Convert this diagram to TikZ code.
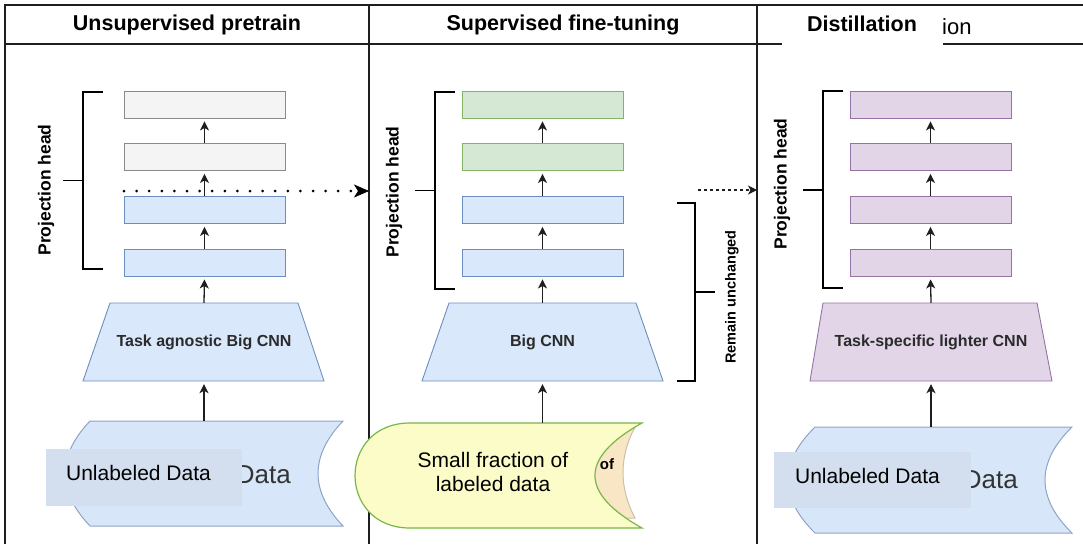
\documentclass[tikz,border=0pt]{standalone}
\usepackage{fontspec}
\setmainfont{Liberation Sans}
\usetikzlibrary{arrows.meta,calc}

\definecolor{frameline}{HTML}{1E1E1E}
\definecolor{boxgrey}{HTML}{F4F4F4}
\definecolor{boxgreyline}{HTML}{8A8A8A}
\definecolor{boxblue}{HTML}{DAE8FC}
\definecolor{boxblueline}{HTML}{6C8EBF}
\definecolor{boxgreen}{HTML}{D5E8D4}
\definecolor{boxgreenline}{HTML}{82B366}
\definecolor{boxpurple}{HTML}{E1D5E7}
\definecolor{boxpurpleline}{HTML}{9673A6}
\definecolor{datafill}{HTML}{D8E6FA}
\definecolor{dataline}{HTML}{8DA4C4}
\definecolor{patchfill}{HTML}{D3DEEE}
\definecolor{yellowfill}{HTML}{FCFCC8}
\definecolor{yellowline}{HTML}{7AB648}
\definecolor{beigefill}{HTML}{F9E6C4}
\definecolor{beigeline}{HTML}{C9C0AE}
\definecolor{labeltext}{HTML}{2B2B2B}

\newcommand\hdrfont{\fontsize{21.5}{25}\selectfont\bfseries}
\newcommand\cnnfont{\fontsize{16}{19}\selectfont\bfseries}
\newcommand\datafont{\fontsize{21}{24}\selectfont}

\tikzset{
  frame/.style={draw=frameline, line width=1.2pt},
  layer/.style={draw, line width=0.9pt, minimum width=161pt, minimum height=27pt, inner sep=0pt},
  greylayer/.style={layer, fill=boxgrey, draw=boxgreyline},
  bluelayer/.style={layer, fill=boxblue, draw=boxblueline},
  greenlayer/.style={layer, fill=boxgreen, draw=boxgreenline},
  purplelayer/.style={layer, fill=boxpurple, draw=boxpurpleline},
  cnnoutline/.style={line width=0.9pt},
  cnnlabel/.style={draw=none, inner sep=0pt, minimum height=78pt, font=\cnnfont, text=labeltext},
  flow/.style={draw=frameline, line width=1.3pt,
    -{Stealth[length=9pt,width=9pt,inset=2.5pt]}, shorten >=3pt},
  brace/.style={draw=black, line width=1.9pt},
  headlabel/.style={rotate=90, font=\fontsize{17.5}{20}\selectfont\bfseries, inner sep=0pt},
  hdr/.style={font=\hdrfont, text=black, inner sep=0pt},
  placeholder/.style={draw=none, inner sep=0pt},
  datashape/.style={fill=datafill, draw=dataline, line width=1pt},
  datapatch/.style={fill=patchfill, draw=none, inner sep=0pt},
  datatext/.style={font=\datafont, text=black, inner sep=0pt},
  bigdata/.style={font=\fontsize{26}{30}\selectfont, text=black!80, inner sep=0pt},
}

\begin{document}
\begin{tikzpicture}[x=1pt,y=-1pt]
\useasboundingbox (0,0) rectangle (1083,544);

% ---------- frame and column headers ----------
\draw[frame] (5,544) -- (5,5) -- (1083,5);
\draw[frame] (5,44) -- (1083,44);
\draw[frame] (369,5) -- (369,544);
\draw[frame] (757,5) -- (757,544);

\node[hdr] (hdrA) at (187,25) {Unsupervised pretrain};
\node[hdr] (hdrB) at (563,25) {Supervised fine-tuning};
\node[hdr, font=\fontsize{22}{25}\selectfont, anchor=west] (hdrCtail) at (942,27) {ion};
\node[fill=white, minimum width=161pt, minimum height=39pt, inner sep=0pt] (hdrCpatch) at (862.5,26.5) {};
\node[hdr] (hdrC) at (862,24) {Distillation};

% ---------- column 1: unsupervised pretraining ----------
\node[greylayer] (a1) at (204.5,104.5) {};
\node[greylayer] (a2) at (204.5,157) {};
\node[bluelayer] (a3) at (204.5,210) {};
\node[bluelayer] (a4) at (204.5,262.5) {};
\path[cnnoutline, fill=boxblue, draw=boxblueline] (83,381) -- (110,303) -- (298,303) -- (324,381) -- cycle;
\node[cnnlabel, minimum width=241pt] (cnnA) at (204,342) {Task agnostic Big CNN};

% stored-data shape
\path[datashape] (90,421) -- (343,421)
  .. controls (309.7,456) and (309.7,491) .. (343,526) -- (90,526)
  .. controls (56.7,491) and (56.7,456) .. cycle;
\node[placeholder, minimum width=278pt, minimum height=105pt] (dataA) at (204,473.5) {};
\node[bigdata, anchor=east] (dataAword) at (291,475) {Data};
\node[datapatch, minimum width=196pt, minimum height=57pt] (dataApatch) at (144,477.5) {};
\node[datatext] (dataAtext) at (138.5,472.5) {Unlabeled Data};

\draw[flow] (dataA.north -| cnnA.south) -- (cnnA.south);
\draw[flow] (cnnA.north) -- (a4.south);
\draw[flow] (a4.north) -- (a3.south);
\draw[flow] (a3.north) -- (a2.south);
\draw[flow] (a2.north) -- (a1.south);

\draw[brace] (103,92) -- (83,92) -- (83,269) -- (103,269);
\draw[brace] (63,180.5) -- (83,180.5);
\node[headlabel] (phA) at (46,190) {Projection head};

% feature hand-off to the fine-tuning stage
\coordinate (handA) at (124,191);
\coordinate (handB) at (369,191);
\draw[line width=3pt, line cap=round, dash pattern=on 0pt off 12.6pt,
      -{Stealth[length=15pt,width=13pt,inset=4pt,line width=0.6pt]}] (handA) -- (handB);

% ---------- column 2: supervised fine-tuning ----------
\node[greenlayer] (b1) at (542.5,104.5) {};
\node[greenlayer] (b2) at (542.5,157) {};
\node[bluelayer] (b3) at (542.5,210) {};
\node[bluelayer] (b4) at (542.5,262.5) {};
\path[cnnoutline, fill=boxblue, draw=boxblueline] (422,381) -- (449,303) -- (636,303) -- (663,381) -- cycle;
\node[cnnlabel, minimum width=241pt] (cnnB) at (542.5,342) {Big CNN};

% labelled data: partly hidden shape behind, then the front shape
\path[fill=beigefill, draw=beigeline, line width=1pt] (570,427) -- (635,427)
  .. controls (619,457.3) and (619,487.7) .. (635,518) -- (570,518) -- cycle;
\node[font=\fontsize{15}{18}\selectfont\bfseries, inner sep=0pt] (ofword) at (607,464) {of};
\path[fill=yellowfill, draw=yellowline, line width=1.2pt] (410,423) -- (642,423)
  .. controls (579.3,458) and (579.3,493) .. (642,528) -- (410,528)
  .. controls (336.7,528) and (336.7,423) .. cycle;
\node[placeholder, minimum width=287pt, minimum height=105pt] (dataB) at (498.5,475.5) {};
\node[datatext, align=center] (dataBtext) at (493,472) {Small fraction of\\labeled data};

\draw[flow] (dataB.north -| cnnB.south) -- (cnnB.south);
\draw[flow] (cnnB.north) -- (b4.south);
\draw[flow] (b4.north) -- (b3.south);
\draw[flow] (b3.north) -- (b2.south);
\draw[flow] (b2.north) -- (b1.south);

\draw[brace] (455,92) -- (435,92) -- (435,289) -- (455,289);
\draw[brace] (415,190.5) -- (435,190.5);
\node[headlabel] (phB) at (394,192) {Projection head};

\draw[brace] (677,203) -- (695,203) -- (695,381) -- (677,381);
\draw[brace] (695,292) -- (715,292);
\node[headlabel, font=\fontsize{14.5}{17}\selectfont\bfseries] (keep) at (732,297) {Remain unchanged};

\coordinate (passA) at (698,190);
\coordinate (passB) at (757,190);
\draw[draw=frameline, line width=1.3pt, dash pattern=on 3pt off 3pt,
      -{Stealth[length=9pt,width=9pt,inset=2.5pt]}] (passA) -- (passB);

% ---------- column 3: distillation ----------
\node[purplelayer] (c1) at (930.5,104.5) {};
\node[purplelayer] (c2) at (930.5,157) {};
\node[purplelayer] (c3) at (930.5,210) {};
\node[purplelayer] (c4) at (930.5,262.5) {};
\path[cnnoutline, fill=boxpurple, draw=boxpurpleline] (810,381) -- (823,303) -- (1037,303) -- (1052,381) -- cycle;
\node[cnnlabel, minimum width=242pt] (cnnC) at (931,342) {Task-specific lighter CNN};

\path[datashape] (815,427) -- (1072,427)
  .. controls (1036,462.3) and (1036,497.7) .. (1072,533) -- (815,533)
  .. controls (779,497.7) and (779,462.3) .. cycle;
\node[placeholder, minimum width=284pt, minimum height=106pt] (dataC) at (930,480) {};
\node[bigdata, anchor=east] (dataCword) at (1018,480) {Data};
\node[datapatch, minimum width=197pt, minimum height=56pt] (dataCpatch) at (872.5,480) {};
\node[datatext] (dataCtext) at (867.5,476) {Unlabeled Data};

\draw[flow] (dataC.north -| cnnC.south) -- (cnnC.south);
\draw[flow] (cnnC.north) -- (c4.south);
\draw[flow] (c4.north) -- (c3.south);
\draw[flow] (c3.north) -- (c2.south);
\draw[flow] (c2.north) -- (c1.south);

\draw[brace] (843,91) -- (823,91) -- (823,288) -- (843,288);
\draw[brace] (803,190) -- (823,190);
\node[headlabel] (phC) at (782,184) {Projection head};

\end{tikzpicture}
\end{document}
